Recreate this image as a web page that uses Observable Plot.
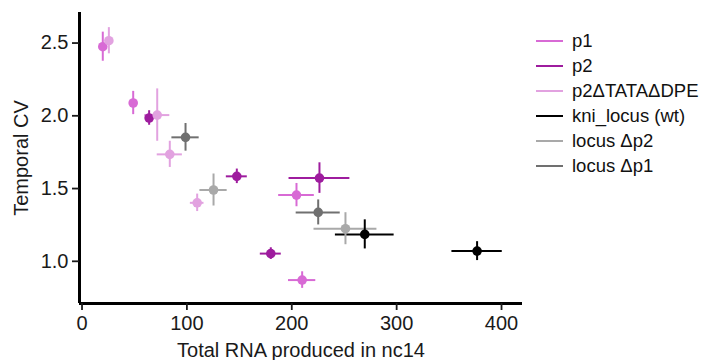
<!DOCTYPE html>
<html>
<head>
<meta charset="utf-8">
<script src="https://cdn.jsdelivr.net/npm/d3@7"></script>
<script src="https://cdn.jsdelivr.net/npm/@observablehq/plot@0.6"></script>
<style>
  html, body { margin: 0; padding: 0; background: #fff; }
  #wrap { position: relative; width: 707px; height: 360px; font-family: "Liberation Sans", Arial, sans-serif; }
  #legend { position: absolute; left: 536px; top: 28px; font-size: 18.5px; color: #111; white-space: nowrap; }
  .row { display: flex; align-items: center; height: 25px; line-height: 25px; }
  .sw { width: 27px; height: 0; border-top: 2.5px solid; margin-right: 9px; flex: none; }
</style>
</head>
<body>
<div id="wrap"><div id="legend"></div></div>
<script>
const seriesNames = ["p1", "p2", "p2\u0394TATA\u0394DPE", "kni_locus (wt)", "locus \u0394p2", "locus \u0394p1"];
const seriesColors = ["#d86ad5", "#9e1c9e", "#e2a2e0", "#000000", "#a9a9a9", "#707070"];

// one entry per point
const pointSeries = ["p1","p1","p1","p1",
                     "p2","p2","p2","p2",
                     "p2\u0394TATA\u0394DPE","p2\u0394TATA\u0394DPE","p2\u0394TATA\u0394DPE","p2\u0394TATA\u0394DPE",
                     "kni_locus (wt)","kni_locus (wt)",
                     "locus \u0394p2","locus \u0394p2",
                     "locus \u0394p1","locus \u0394p1"];
const totalRNA = [19.8, 48.8, 204.5, 209.9,
                  64.0, 147.6, 180.0, 226.4,
                  25.6, 71.7, 83.7, 109.8,
                  269.6, 376.7,
                  125.4, 251.2,
                  98.7, 225.2];
const temporalCV = [2.475, 2.088, 1.455, 0.871,
                    1.985, 1.584, 1.053, 1.572,
                    2.516, 2.005, 1.735, 1.402,
                    1.185, 1.070,
                    1.490, 1.224,
                    1.852, 1.336];
const rnaErr = [1.5, 1.5, 17, 13,
                3, 10, 10, 29,
                2, 12, 12, 6.5,
                28, 24,
                13, 30,
                13, 21];
const cvErr = [0.10, 0.08, 0.08, 0.057,
               0.05, 0.05, 0.04, 0.105,
               0.09, 0.18, 0.09, 0.06,
               0.10, 0.065,
               0.11, 0.11,
               0.095, 0.086];
const xTicks = [0, 100, 200, 300, 400];
const yTicks = [1.0, 1.5, 2.0, 2.5];
const xDomain = [-2.4, 420];
const yDomain = [0.71, 2.71];

const rows = totalRNA.map((x, i) => ({
  s: pointSeries[i], x, y: temporalCV[i], ex: rnaErr[i], ey: cvErr[i]
}));

const color = {domain: seriesNames, range: seriesColors};
const font = "Liberation Sans, Arial, sans-serif";

const chart = Plot.plot({
  width: 707,
  height: 360,
  marginLeft: 79,
  marginRight: 185,
  marginTop: 12,
  marginBottom: 57,
  style: {fontFamily: font, fontSize: "20px", color: "#1a1a1a", background: "#fff"},
  x: {domain: xDomain, ticks: xTicks, label: null},
  y: {domain: yDomain, ticks: yTicks, label: null},
  color,
  marks: [
    Plot.ruleY(rows, {y: "y", x1: d => d.x - d.ex, x2: d => d.x + d.ex, stroke: "s", strokeWidth: 2}),
    Plot.ruleX(rows, {x: "x", y1: d => d.y - d.ey, y2: d => d.y + d.ey, stroke: "s", strokeWidth: 2}),
    Plot.dot(rows, {x: "x", y: "y", fill: "s", r: 4.8}),
    Plot.ruleX([xDomain[0]], {stroke: "#000", strokeWidth: 3}),
    Plot.ruleY([yDomain[0]], {stroke: "#000", strokeWidth: 3}),
    Plot.axisX({ticks: xTicks, tickSize: 7, tickPadding: 5, tickFormat: d => String(d), fontSize: 20, strokeWidth: 1.8,
                label: "Total RNA produced in nc14", labelAnchor: "center", labelArrow: "none", labelOffset: 53}),
    Plot.axisY({ticks: yTicks, tickSize: 7, tickPadding: 4, tickFormat: d => d.toFixed(1), fontSize: 20, strokeWidth: 1.8,
                label: "Temporal CV", labelAnchor: "center", labelArrow: "none", labelOffset: 66})
  ]
});
document.getElementById("wrap").prepend(chart);
chart.style.position = "absolute";
chart.style.left = "0";
chart.style.top = "0";

const legend = d3.select("#legend");
seriesNames.forEach((n, i) => {
  const r = legend.append("div").attr("class", "row");
  r.append("div").attr("class", "sw").style("border-top-color", seriesColors[i]);
  r.append("span").text(n);
});
</script>
</body>
</html>
